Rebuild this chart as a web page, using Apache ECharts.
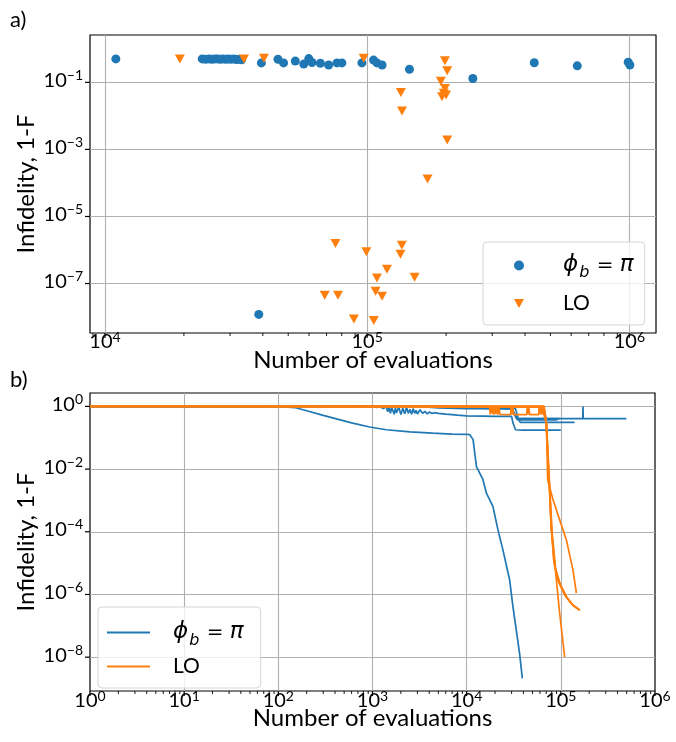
<!DOCTYPE html>
<html><head><meta charset="utf-8">
<script src="https://cdn.jsdelivr.net/npm/echarts@6/dist/echarts.min.js"></script>
<style>html,body{margin:0;padding:0;background:#fff}#c{width:676px;height:742px}</style>
</head><body><div id="c"></div>
<script>
// ---------- Panel a) : final infidelity vs number of evaluations ----------
const phiEvals = [11000,23500,24200,25000,25600,26300,26900,27500,28200,28900,29500,30200,31000,31700,32500,33200,38600,39500,45700,48000,53200,57300,59900,61600,66300,71300,76700,80100,95500,105800,109000,114000,145000,253000,434000,633000,990000,1005000];
const phiInfid = [0.50,0.50,0.49,0.50,0.49,0.50,0.50,0.49,0.50,0.49,0.50,0.49,0.50,0.48,0.49,0.47,1.2e-8,0.38,0.49,0.38,0.43,0.35,0.51,0.39,0.37,0.33,0.38,0.38,0.38,0.46,0.38,0.33,0.245,0.13,0.385,0.31,0.40,0.33];
const loEvals = [19300,33900,40400,97000,198000,202000,191000,198000,196000,193000,200000,134500,135800,202000,170000,75700,99300,135600,134000,119000,109000,151700,68900,77400,107700,114000,89000,106000];
const loInfid = [0.50,0.50,0.52,0.52,0.44,0.22,0.107,0.066,0.047,0.037,0.042,0.050,0.0139,0.0019,1.3e-4,1.56e-6,8.8e-7,1.39e-6,7.5e-7,2.67e-7,1.47e-7,1.55e-7,4.5e-8,4.5e-8,5.9e-8,4.2e-8,8.7e-9,7.9e-9];

// ---------- Panel b) : infidelity traces ----------
const phiRun1 = [[1,1],[100,1],[150,0.92],[200,0.73],[300,0.52],[414,0.4],[600,0.3],[933,0.22],[1400,0.18],[2500,0.155],[4360,0.14],[7000,0.13],[10000,0.128],[10800,0.125],[11700,0.087],[12700,0.012],[14900,4.6e-3],[16200,1.7e-3],[19000,6.5e-4],[21500,1.15e-4],[24300,2.6e-5],[28600,2.9e-6],[31000,4.1e-7],[36500,1.3e-8],[39000,2.1e-9]];
const phiRun2 = [[1,1],[1000,1],[1100,0.93],[1200,0.99],[1300,0.85],[1400,0.97],[1450,0.68],[1500,0.95],[1550,0.6],[1600,0.92],[1700,0.56],[1750,0.9],[1800,0.62],[1900,0.96],[2000,0.55],[2100,0.88],[2200,0.58],[2300,0.93],[2400,0.6],[2500,0.8],[2600,0.56],[2700,0.85],[2800,0.6],[2900,0.75],[3000,0.57],[3200,0.78],[3400,0.6],[3600,0.7],[3800,0.58],[4000,0.66],[4300,0.6],[4600,0.63],[5000,0.6],[6000,0.57],[7000,0.55],[8000,0.53],[10000,0.5],[15000,0.49],[20000,0.48],[30000,0.48],[31000,0.3],[33000,0.18],[40000,0.176],[100000,0.176]];
const phiRun3 = [[1,1],[3000,1],[5000,0.9],[10000,0.85],[30000,0.83],[32000,0.6],[34000,0.41],[97000,0.41]];
const phiRun4 = [[1,1],[5000,1],[10000,0.9],[30000,0.85],[33000,0.5],[35000,0.37],[92000,0.37]];
const phiRun5 = [[1,1],[8000,1],[20000,0.9],[33000,0.85],[35000,0.45],[37000,0.31],[140000,0.31]];
const phiRun6 = [[1,1],[10000,1],[30000,0.9],[32000,0.6],[34000,0.41],[171000,0.41],[172000,1],[173000,0.41],[497000,0.41]];
const loRun1 = [[1,1],[17500,1],[17800,0.56],[18100,1],[18500,0.6],[18900,0.98],[19300,0.55],[19800,0.95],[20300,0.57],[20800,1],[21400,0.55],[22000,0.97],[22600,0.56],[23000,0.55],[29300,0.55],[29700,1],[30200,0.56],[30800,0.98],[31500,0.55],[32400,0.55],[43400,0.55],[44000,1],[44800,0.56],[45700,0.97],[46700,0.55],[58200,0.55],[58800,1],[59700,0.57],[60600,0.99],[61600,0.55],[62700,0.97],[63800,0.56],[65000,0.98],[66000,0.55],[68000,0.4],[70300,0.3],[73000,0.02],[76200,2e-3],[79400,1.15e-4],[89700,2.9e-6],[97200,2.5e-7],[109900,1.0e-8]];
const loRun2 = [[1,1],[65000,1],[70000,0.3],[73000,0.025],[76200,2e-3],[79400,1.15e-4],[86100,7.8e-6],[97200,2.3e-6],[114600,8.5e-7],[134600,4.6e-7],[158600,3.2e-7]];
const loRun3 = [[1,1],[66500,1],[70500,0.25],[74000,0.015],[77000,1.5e-3],[81000,9e-5],[88000,6.5e-6],[99000,2e-6],[116000,8e-7],[136000,4.3e-7],[160000,3.1e-7]];
const loRun4 = [[1,1],[65500,0.95],[69000,0.5],[72000,0.05],[75000,4e-3],[78000,3e-4],[84000,1.2e-5],[93000,2.8e-6],[110000,9.5e-7],[130000,5e-7],[155000,3.3e-7]];
const loRun5 = [[1,1],[66000,1],[68000,0.55],[70300,0.3],[72500,4.6e-3],[82600,1.05e-3],[97200,2.4e-4],[114600,5.5e-5],[134600,6e-6],[146300,1.1e-6]];

// ---------- ticks ----------
const topXMajor = [1e4,1e5,1e6];
const topXMinor = [9e3,2e4,3e4,4e4,5e4,6e4,7e4,8e4,9e4,2e5,3e5,4e5,5e5,6e5,7e5,8e5,9e5];
const topYMajor = [1e-1,1e-3,1e-5,1e-7];
const botXMajor = [1,1e1,1e2,1e3,1e4,1e5,1e6];
const botXMinor = [];
[1,10,100,1000,10000,100000].forEach(d=>{[2,3,4,5,6,7,8,9].forEach(k=>botXMinor.push(k*d));});
const botYMajor = [1,1e-2,1e-4,1e-6,1e-8];

const BLUE = '#1f77b4', ORANGE = '#ff7f0e';
const FONT = 'Lato';
const MINUS = '\u2212';
const GRID_COLOR = '#b0b0b0';

function expLabel(v, shift){
  const e = Math.log10(v);
  const r = Math.round(e);
  if (Math.abs(e - r) > 1e-6) return '';
  const n = r + shift;
  return '{b|10}{s|' + (n < 0 ? MINUS + (-n) : n) + '}';
}
const tickRich = {
  b: {fontFamily: FONT, fontSize: 20, color: '#000', verticalAlign: 'bottom', lineHeight: 16},
  s: {fontFamily: FONT, fontSize: 14, color: '#000', verticalAlign: 'bottom', lineHeight: 12, padding: [0,0,8,0]}
};
const nameStyle = {fontFamily: FONT, fontSize: 24, color: '#000'};
const splitStyle = {show: true, showMinLine: false, showMaxLine: false, lineStyle: {color: GRID_COLOR, width: 1.1}};

const topXMin = Math.pow(10, 3.9429), topXMax = Math.pow(10, 6.1017);
const topYMin = Math.pow(10, -8.475), topYMax = Math.pow(10, 0.412);
const botYMin = Math.pow(10, -9.08), botYMax = Math.pow(10, 0.428);

function zip(xs, ys){ return xs.map((x,i)=>[x, ys[i]]); }

function xTickRender(params, api){
  const cs = params.coordSys;
  const x = api.coord([api.value(0), api.value(1)])[0];
  const y0 = cs.y + cs.height;
  const len = api.value(2);
  return {type: 'line', shape: {x1: x, y1: y0, x2: x, y2: y0 + len}, style: {stroke: '#000', lineWidth: len > 4 ? 1.2 : 0.9}};
}
function yTickRender(params, api){
  const cs = params.coordSys;
  const y = api.coord([api.value(0), api.value(1)])[1];
  const x0 = cs.x;
  return {type: 'line', shape: {x1: x0, y1: y, x2: x0 - 5, y2: y}, style: {stroke: '#000', lineWidth: 1.2}};
}

const phiRich = {
  it: {fontFamily: 'DejaVu Sans', fontStyle: 'italic', fontSize: 23, color: '#000'},
  sub: {fontFamily: 'DejaVu Sans', fontStyle: 'italic', fontSize: 16, color: '#000', verticalAlign: 'top', padding: [12,1,0,1]},
  t: {fontFamily: 'DejaVu Sans', fontSize: 20, color: '#000'},
  lo: {fontFamily: FONT, fontSize: 21, color: '#000'}
};
function legendFmt(name){
  if (name.indexOf('ϕ') === 0) return '{it|ϕ}{sub|b}{t| = }{it|π}';
  return '{lo|LO}';
}

const lineSeries = [];
[phiRun1, phiRun2, phiRun3, phiRun4, phiRun5, phiRun6].forEach(r=>lineSeries.push({
  type: 'line', name: 'ϕb = π ', xAxisIndex: 1, yAxisIndex: 2, data: r, symbol: 'none', showSymbol: false,
  lineStyle: {color: BLUE, width: 1.7}, itemStyle: {color: BLUE}, z: 3, silent: true
}));
[loRun1, loRun2, loRun3, loRun4, loRun5].forEach(r=>lineSeries.push({
  type: 'line', name: 'LO ', xAxisIndex: 1, yAxisIndex: 2, data: r, symbol: 'none', showSymbol: false,
  lineStyle: {color: ORANGE, width: 1.7}, itemStyle: {color: ORANGE}, z: 4, silent: true
}));

const chart = echarts.init(document.getElementById('c'), null, {renderer: 'canvas'});
chart.setOption({
  animation: false,
  backgroundColor: '#fff',
  grid: [
    {left: 90, top: 35, width: 566, height: 298, show: true, borderColor: '#000', borderWidth: 1.2, backgroundColor: 'transparent'},
    {left: 90, top: 393, width: 565, height: 298, show: true, borderColor: '#000', borderWidth: 1.2, backgroundColor: 'transparent'}
  ],
  xAxis: [
    {gridIndex: 0, type: 'log', logBase: 10, min: topXMin, max: topXMax,
     axisLine: {show: false}, axisTick: {show: false}, splitLine: splitStyle,
     axisLabel: {formatter: v=>expLabel(v,0), rich: tickRich, margin: 3, showMinLabel: false, showMaxLabel: false},
     name: 'Number of evaluations', nameLocation: 'middle', nameGap: 15, nameMoveOverlap: false, nameTextStyle: nameStyle},
    {gridIndex: 1, type: 'log', logBase: 10, min: 1, max: 1e6,
     axisLine: {show: false}, axisTick: {show: false}, splitLine: splitStyle,
     axisLabel: {formatter: v=>expLabel(v,0), rich: tickRich, margin: 4},
     name: 'Number of evaluations', nameLocation: 'middle', nameGap: 15, nameMoveOverlap: false, nameTextStyle: nameStyle}
  ],
  yAxis: [
    {gridIndex: 0, type: 'log', logBase: 10, min: topYMin, max: topYMax, show: false},
    {gridIndex: 0, type: 'log', logBase: 100, min: topYMin * 10, max: topYMax * 10, position: 'left', offset: 0,
     axisLine: {show: false}, axisTick: {show: false}, splitLine: splitStyle,
     axisLabel: {formatter: v=>expLabel(v,-1), rich: tickRich, margin: 7, showMinLabel: false, showMaxLabel: false},
     name: 'Infidelity, 1-F', nameLocation: 'middle', nameGap: 52, nameMoveOverlap: false, nameTextStyle: nameStyle},
    {gridIndex: 1, type: 'log', logBase: 100, min: botYMin, max: botYMax,
     axisLine: {show: false}, axisTick: {show: false}, splitLine: splitStyle,
     axisLabel: {formatter: v=>expLabel(v,0), rich: tickRich, margin: 7, showMinLabel: false, showMaxLabel: false},
     name: 'Infidelity, 1-F', nameLocation: 'middle', nameGap: 52, nameMoveOverlap: false, nameTextStyle: nameStyle}
  ],
  legend: [
    {orient: 'vertical', left: 483, top: 242, padding: [11,11,9,31], itemWidth: 10, itemHeight: 10, itemGap: 10,
     borderColor: '#d5d5d5', borderWidth: 1, borderRadius: 4, backgroundColor: 'rgba(255,255,255,0.8)',
     data: [{name: 'ϕb = π', icon: 'circle'}, {name: 'LO', icon: 'path://M0,0 L10,0 L5,9 Z'}], formatter: legendFmt, selectedMode: false,
     textStyle: {fontFamily: FONT, fontSize: 20, lineHeight: 25, padding: [0,0,0,34], rich: phiRich}},
    {orient: 'vertical', left: 98, top: 607, padding: [14,17,10,9], itemWidth: 43, itemHeight: 2, itemGap: 6,
     borderColor: '#d5d5d5', borderWidth: 1, borderRadius: 4, backgroundColor: 'rgba(255,255,255,0.8)',
     data: [{name: 'ϕb = π ', icon: 'rect'}, {name: 'LO ', icon: 'rect'}], formatter: legendFmt, selectedMode: false,
     textStyle: {fontFamily: FONT, fontSize: 20, lineHeight: 23, padding: [0,0,0,18], rich: phiRich}}
  ],
  graphic: [
    {type: 'text', left: 10, top: 9, style: {text: 'a)', font: '22px ' + FONT, fill: '#000'}},
    {type: 'text', left: 10, top: 369, style: {text: 'b)', font: '22px ' + FONT, fill: '#000'}}
  ],
  series: [
    {type: 'scatter', name: 'ϕb = π', xAxisIndex: 0, yAxisIndex: 0, data: zip(phiEvals, phiInfid),
     symbol: 'circle', symbolSize: 9, itemStyle: {color: BLUE, opacity: 1}, z: 3, silent: true},
    {type: 'scatter', name: 'LO', xAxisIndex: 0, yAxisIndex: 0, data: zip(loEvals, loInfid),
     symbol: 'triangle', symbolRotate: 180, symbolSize: [10, 9], itemStyle: {color: ORANGE, opacity: 1}, z: 4, silent: true},
    {type: 'custom', xAxisIndex: 0, yAxisIndex: 0, silent: true, clip: false, z: 10, renderItem: xTickRender,
     data: topXMajor.map(v=>[v, 1, 5]).concat(topXMinor.map(v=>[v, 1, 3]))},
    {type: 'custom', xAxisIndex: 0, yAxisIndex: 0, silent: true, clip: false, z: 10, renderItem: yTickRender,
     data: topYMajor.map(v=>[1e5, v])},
    {type: 'custom', xAxisIndex: 1, yAxisIndex: 2, silent: true, clip: false, z: 10, renderItem: xTickRender,
     data: botXMajor.map(v=>[v, 1, 5]).concat(botXMinor.map(v=>[v, 1, 3]))},
    {type: 'custom', xAxisIndex: 1, yAxisIndex: 2, silent: true, clip: false, z: 10, renderItem: yTickRender,
     data: botYMajor.map(v=>[10, v])}
  ].concat(lineSeries)
});
</script>
</body></html>
